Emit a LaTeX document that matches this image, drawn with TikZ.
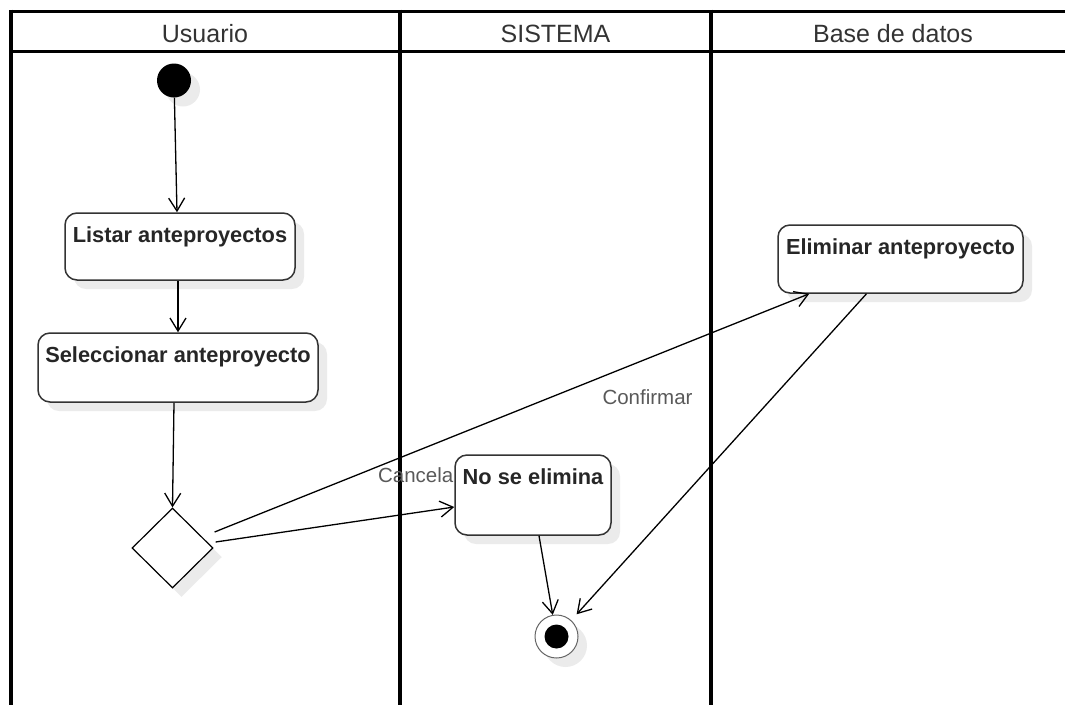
\documentclass[tikz,border=0pt]{standalone}
\usepackage{fontspec}
\setmainfont{Liberation Sans}
\usetikzlibrary{shapes.geometric,arrows.meta,calc,shadows}

\tikzset{
    lane/.style={line width=4pt},
    hdr/.style={font=\fontsize{25}{30}\selectfont, text=black!80},
    shd/.style={general shadow={fill=black!8, shadow xshift=9pt, shadow yshift=-9pt}},
    act/.style={draw=black!80, line width=1.5pt, rounded corners=12pt, fill=white, shd,
        font=\fontsize{21.8}{26}\selectfont\bfseries, text=black!85, inner ysep=13pt, text height=16pt},
    flow/.style={-{Straight Barb[length=13pt,width=16pt]}, line width=1.3pt},
    lbl/.style={font=\fontsize{20.5}{24}\selectfont, text=black!65},
}

\begin{document}
\begin{tikzpicture}[x=1pt, y=-1pt]
    \useasboundingbox (0,0) rectangle (1065,705);
    % swimlanes
    \draw[line width=3pt] (9,11) -- (1065,11);
    \draw[line width=3pt] (9,51) -- (1065,51);
    \draw[lane] (10.5,9.5) -- (10.5,705);
    \draw[lane] (400,9.5) -- (400,705);
    \draw[lane] (711,9.5) -- (711,705);
    \node[hdr, anchor=base] at (205,42) (husu) {Usuario};
    \node[hdr, anchor=base] at (555.5,42) (hsis) {SISTEMA};
    \node[hdr, anchor=base] at (893,42) (hbd) {Base de datos};

    % actividades
    \node[circle, fill=black, minimum size=34pt, inner sep=0pt, shd] at (174,80.5) (ini) {};
    \node[act, minimum width=230pt, text depth=25pt] at (180,246.5) (listar) {Listar anteproyectos};
    \node[act, minimum width=280pt, text depth=27pt] at (178,367.5) (selec) {Seleccionar anteproyecto};
    \node[diamond, draw, line width=1.2pt, fill=white, minimum width=81pt, minimum height=80pt, inner sep=0pt, shd] at (172.5,548) (dec) {};
    \node[act, minimum width=156pt, text depth=38pt] at (533,495) (nose) {No se elimina};
    \node[act, minimum width=245pt, text depth=26pt] at (900.5,259) (elim) {Eliminar anteproyecto};
    \node[circle, draw=black!60, line width=1pt, fill=white, minimum size=43pt, inner sep=0pt, shd,
        path picture={\fill[black] (path picture bounding box.center) circle (12pt);}] at (556.5,636.5) (fin) {};

    % flujos
    \draw[flow] (ini) -- ($(listar.north)+(-3,0)$);
    \draw[flow] ($(listar.south)+(-2,0)$) -- (selec.north);
    \draw[flow] ($(selec.south)+(-4,0)$) -- (dec.north);
    \draw[flow] ($(dec.east)+(1,-16)$) -- node[lbl, pos=0.728, yshift=-39pt] (conf) {Confirmar} ($(elim.south west)+(32,0)$);
    \draw[flow] ($(dec.east)+(2,-6)$) -- node[lbl, pos=1, anchor=base east, xshift=3pt, yshift=25pt] (canc) {Cancela} ($(nose.west)+(0,12)$);
    \draw[flow] ($(nose.south)+(6,0)$) -- (fin);
    \draw[flow, shorten >=8pt] ($(elim.south)+(-34,0)$) -- (fin);
\end{tikzpicture}
\end{document}
